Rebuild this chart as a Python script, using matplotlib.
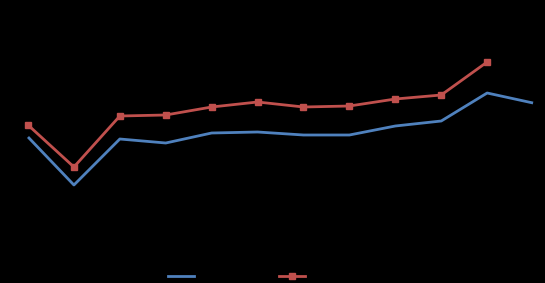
import matplotlib
matplotlib.use("Agg")
import matplotlib.pyplot as plt
from matplotlib.lines import Line2D

categories = list(range(1, 13))
series_blue = [146, 98, 144, 140, 150, 151, 148, 148, 157, 162, 190, 180]
series_red = [158, 116, 167, 168, 176, 181, 176, 177, 184, 188, 221]

BLUE = "#4F81BD"
RED = "#C0504D"

fig = plt.figure(figsize=(5.45, 2.83), dpi=100, facecolor="black")
ax = fig.add_axes([0, 0, 1, 1])
ax.set_facecolor("black")

x_blue = list(range(len(series_blue)))
x_red = list(range(len(series_red)))
ax.plot(x_blue, series_blue, color=BLUE, lw=2.0, solid_capstyle="butt")
ax.plot(x_red, series_red, color=RED, lw=2.0, marker="s", markersize=5,
        markerfacecolor=RED, markeredgecolor=RED)

ax.set_xlim(-0.61, 11.26)
ax.set_ylim(0, 283)
ax.axis("off")

handles = [Line2D([], [], color=BLUE, lw=2.0),
           Line2D([], [], color=RED, lw=2.0, marker="s", markersize=5)]
leg = fig.legend(handles, ["", ""], loc="center", bbox_to_anchor=(0.444, 0.021),
                 ncol=2, frameon=False, handlelength=1.87, handletextpad=0.8,
                 columnspacing=5.3, fontsize=10, labelcolor="black")

fig.savefig("out.png", dpi=100, facecolor="black")
